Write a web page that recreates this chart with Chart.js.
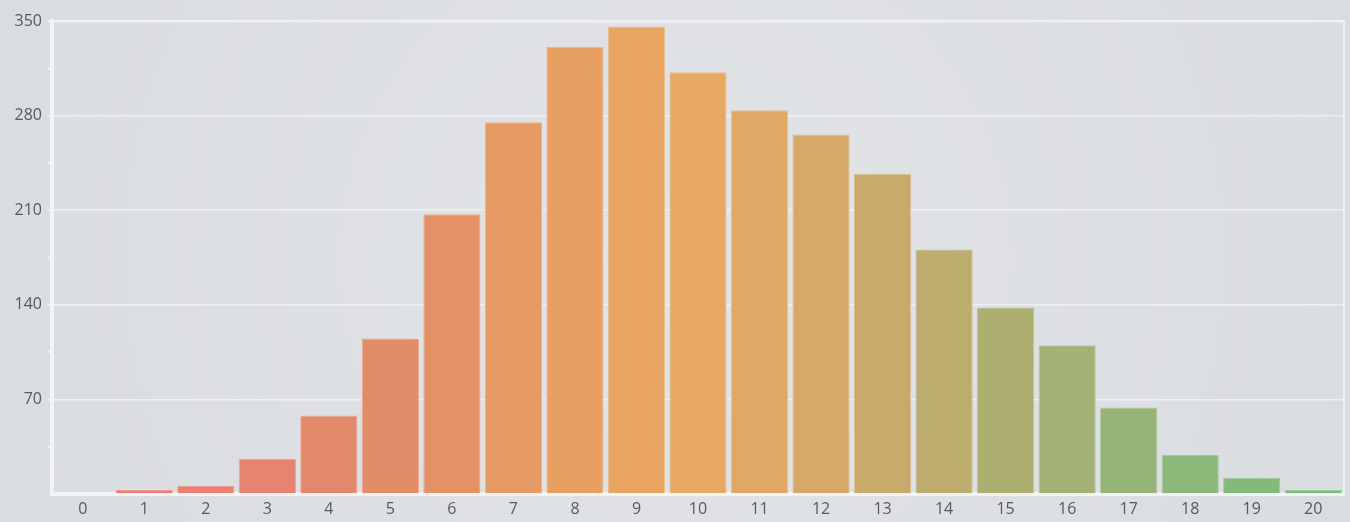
<!DOCTYPE html>
<html>
<head>
<meta charset="utf-8">
<script src="https://cdn.jsdelivr.net/npm/chart.js@4"></script>
<style>
  html, body { margin: 0; padding: 0; background: #dcdfe3; }
  #wrap { width: 1350px; height: 522px; position: relative; }
</style>
</head>
<body>
<div id="wrap"><canvas id="c" width="1350" height="522"></canvas></div>
<script>
// Outcome counts, 0..20
const categories = ['0','1','2','3','4','5','6','7','8','9','10','11','12','13','14','15','16','17','18','19','20'];
const counts = [0, 3, 6, 26, 58, 115, 207, 275, 331, 346, 312, 284, 266, 237, 181, 138, 110, 64, 29, 12, 3];
const yTickStep = 35;
const yLabelStep = 70;
const yMax = 350;

// red -> orange -> green bar palette
const barColors = [
  '#ee7a78','#ec7c76','#ea7f72','#e6836e','#e3886b','#e38c68','#e49265',
  '#e69a63','#e7a062','#e9a662','#e6a863','#dfa865','#d6a967','#caaa6a',
  '#bcac6d','#adaf71','#a2b174','#96b477','#8bb779','#82ba7a','#78bd7b'
];

function lighten(hex, amt) {
  const n = parseInt(hex.slice(1), 16);
  const r = (n >> 16) & 255, g = (n >> 8) & 255, b = n & 255;
  const f = v => Math.round(v + (255 - v) * amt);
  return `rgb(${f(r)},${f(g)},${f(b)})`;
}

const bgPlugin = {
  id: 'bg',
  beforeDraw(chart) {
    const { ctx, width, height } = chart;
    const g = ctx.createRadialGradient(width * 0.5, height * 0.5, 20, width * 0.5, height * 0.5, width * 0.6);
    g.addColorStop(0, '#e2e4e7');
    g.addColorStop(1, '#d8dbdf');
    ctx.save();
    ctx.fillStyle = g;
    ctx.fillRect(0, 0, width, height);
    ctx.restore();
  }
};

Chart.defaults.font.family = '"Open Sans", sans-serif';
Chart.defaults.font.size = 16;
Chart.defaults.color = '#555a60';

new Chart(document.getElementById('c'), {
  type: 'bar',
  data: {
    labels: categories,
    datasets: [{
      data: counts,
      backgroundColor: barColors,
      borderColor: barColors.map(c => lighten(c, 0.25)),
      borderWidth: 1,
      barPercentage: 0.93,
      categoryPercentage: 1
    }]
  },
  options: {
    responsive: false,
    animation: false,
    layout: { padding: { top: 21, right: 6, left: 0, bottom: 0 } },
    plugins: { legend: { display: false }, tooltip: { enabled: false } },
    scales: {
      x: {
        grid: { display: false, drawTicks: false },
        border: { color: '#f3f4f5', width: 4 },
        ticks: { padding: 6, color: '#555a60' },
        afterFit(s) { s.height = 28; }
      },
      y: {
        min: 0,
        max: yMax,
        afterBuildTicks(s) {
          s.ticks = [];
          for (let v = 0; v <= yMax; v += yTickStep) s.ticks.push({ value: v });
        },
        grid: {
          color: ctx => (ctx.tick && ctx.tick.value % yLabelStep === 0 && ctx.tick.value !== 0) ? '#eef0f2' : 'rgba(0,0,0,0)',
          tickColor: ctx => (ctx.tick && ctx.tick.value !== 0) ? '#f3f4f5' : 'rgba(0,0,0,0)',
          lineWidth: ctx => (ctx.tick && ctx.tick.value === yMax) ? 2.5 : 1.5,
          tickLength: 4,
          tickWidth: 2
        },
        border: { color: '#f3f4f5', width: 4 },
        ticks: {
          padding: 6,
          color: '#555a60',
          callback: v => (v % yLabelStep === 0 && v !== 0) ? String(v) : ''
        },
        afterFit(s) { s.width = 52; }
      },
      yRight: {
        position: 'right',
        min: 0,
        max: yMax,
        grid: { display: false, drawTicks: false },
        ticks: { display: false },
        border: { color: '#eef0f2', width: 2 },
        afterFit(s) { s.width = 0; }
      }
    }
  },
  plugins: [bgPlugin]
});
</script>
</body>
</html>
